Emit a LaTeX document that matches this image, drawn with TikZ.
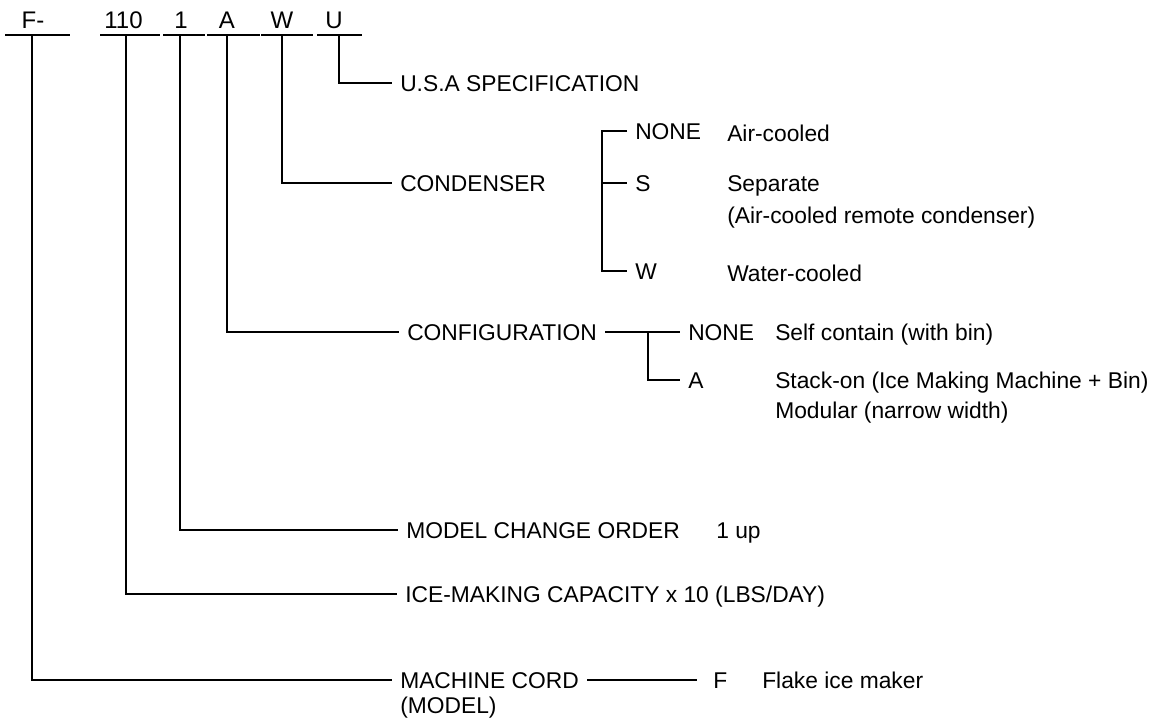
\documentclass[tikz,border=0pt]{standalone}
\usepackage{fontspec}
\setmainfont{Liberation Sans}
\begin{document}
\begin{tikzpicture}[x=0.75pt,y=-0.75pt,
  txt/.style={font=\fontsize{17.1}{20}\selectfont, text height=12.2pt, text depth=0pt, inner ysep=0pt},
  lbl/.style={txt, anchor=west, inner xsep=6pt},
  desc/.style={txt, anchor=west, inner xsep=0pt},
  hdr/.style={font=\fontsize{18}{20}\selectfont, anchor=base, inner sep=0pt},
  conn/.style={draw, line width=1.4pt},
  uline/.style={draw, line width=2pt}]
\useasboundingbox (0,0) rectangle (1160,721);
% header characters
\node[hdr] (hF) at (33,28) {F-};
\node[hdr] (h110) at (123.5,28) {110};
\node[hdr] (h1) at (181,28) {1};
\node[hdr] (hA) at (227,28) {A};
\node[hdr] (hW) at (282,28) {W};
\node[hdr] (hU) at (334,28) {U};
% underlines
\coordinate (uF1) at (5,35);   \coordinate (uF2) at (70,35);
\coordinate (u1101) at (100,35); \coordinate (u1102) at (160,35);
\coordinate (u11) at (163,35); \coordinate (u12) at (205,35);
\coordinate (uA1) at (207,35); \coordinate (uA2) at (260,35);
\coordinate (uW1) at (261,35); \coordinate (uW2) at (313,35);
\coordinate (uU1) at (317,35); \coordinate (uU2) at (362,35);
\draw[uline] (uF1) -- (uF2);
\draw[uline] (u1101) -- (u1102);
\draw[uline] (u11) -- (u12);
\draw[uline] (uA1) -- (uA2);
\draw[uline] (uW1) -- (uW2);
\draw[uline] (uU1) -- (uU2);
% branch points on the underlines
\coordinate (bF) at (32,35);
\coordinate (b110) at (126,35);
\coordinate (b1) at (180,35);
\coordinate (bA) at (227,35);
\coordinate (bW) at (282,35);
\coordinate (bU) at (339,35);
% main labels
\node[lbl] (usa) at (392,83) {U.S.A SPECIFICATION};
\node[lbl] (cond) at (392,183) {CONDENSER};
\node[lbl] (config) at (399,332) {CONFIGURATION};
\node[lbl] (mco) at (398,530) {MODEL CHANGE ORDER};
\node[lbl] (ice) at (397,594) {ICE-MAKING CAPACITY x 10 (LBS/DAY)};
\node[lbl] (mc) at (392,680) {MACHINE CORD};
\node[lbl] (mcm) at (392,705) {(MODEL)};
\draw[conn] (bU) |- (usa.west);
\draw[conn] (bW) |- (cond.west);
\draw[conn] (bA) |- (config.west);
\draw[conn] (b1) |- (mco.west);
\draw[conn] (b110) |- (ice.west);
\draw[conn] (bF) |- (mc.west);
% condenser options
\node[lbl] (cnone) at (627,131) {NONE};
\node[lbl] (cs) at (627,183) {S};
\node[lbl] (cw) at (627,271) {W};
\coordinate (cbr) at (602,131);
\draw[conn] (cnone.west) -| (cw.west -| cbr) -- (cw.west);
\draw[conn] (cbr |- cs.west) -- (cs.west);
\node[desc] (dair) at (727,133) {Air-cooled};
\node[desc] (dsep) at (727,183) {Separate};
\node[desc] (dsep2) at (727,215) {(Air-cooled remote condenser)};
\node[desc] (dwat) at (727,273) {Water-cooled};
% configuration options
\node[lbl] (fnone) at (680,332) {NONE};
\node[lbl] (fa) at (680,380) {A};
\coordinate (fbr) at (648,332);
\draw[conn] (config.east) -- (fnone.west);
\draw[conn] (fbr) |- (fa.west);
\node[desc] (dself) at (775,332) {Self contain (with bin)};
\node[desc] (dstack) at (775,380) {Stack-on (Ice Making Machine + Bin)};
\node[desc] (dmod) at (775,410) {Modular (narrow width)};
% model change order
\node[desc] (dup) at (716,530) {1 up};
% machine cord
\node[desc] (mf) at (713,680) {F};
\draw[conn, shorten >=12pt] (mc.east) -- (mf.west);
\node[desc] (dflake) at (762,680) {Flake ice maker};
\end{tikzpicture}
\end{document}
